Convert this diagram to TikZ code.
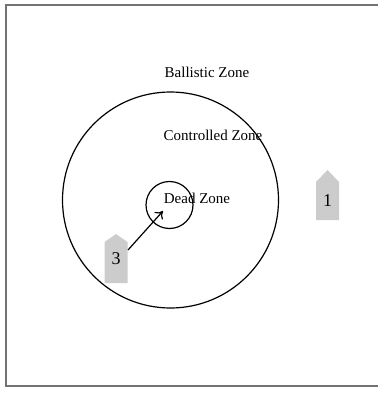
\documentclass[tikz,border=0pt]{standalone}
\usepackage{fontspec}
\setmainfont{Liberation Serif}
\usepackage{tikz}
\usetikzlibrary{arrows.meta}

\begin{document}
\begin{tikzpicture}[x=1pt,y=-1pt,
        zone/.style={font=\fontsize{15}{17}\selectfont,inner sep=0pt},
        unit/.style={font=\fontsize{18}{20}\selectfont,inner sep=0pt},
        marker/.style={fill=black!20}]
    \useasboundingbox (0,0) rectangle (378,393);

    % Frame
    \draw[black!55,line width=1.6pt] (378,5) -- (6,5) -- (6,386) -- (378,386);

    % Zones
    \node[circle,draw,line width=1.2pt,minimum size=216pt,inner sep=0pt] (outer) at (170.5,200) {};
    \node[circle,draw,line width=1.2pt,minimum size=47pt,inner sep=0pt] (dead) at (169.5,205) {};
    \node[zone] (ballistic) at (207,72) {Ballistic Zone};
    \node[zone] (controlled) at (213,135) {Controlled Zone};
    \node[zone] (deadlabel) at (197,198) {Dead Zone};

    % Units
    \fill[marker] (104.5,283) -- (104.5,242) -- (116,234) -- (127.5,242) -- (127.5,283) -- cycle;
    \node[unit] (u3) at (116,259) {3};
    \fill[marker] (316,220) -- (316,182) -- (327.5,170) -- (339,182) -- (339,220) -- cycle;
    \node[unit] (u1) at (327.5,201) {1};

    % Heading
    \coordinate (tail) at (128,250);
    \coordinate (aim) at (163,211);
    \draw[line width=1.2pt,-{To[length=7pt,width=11pt]}] (tail) -- (aim);
\end{tikzpicture}
\end{document}
